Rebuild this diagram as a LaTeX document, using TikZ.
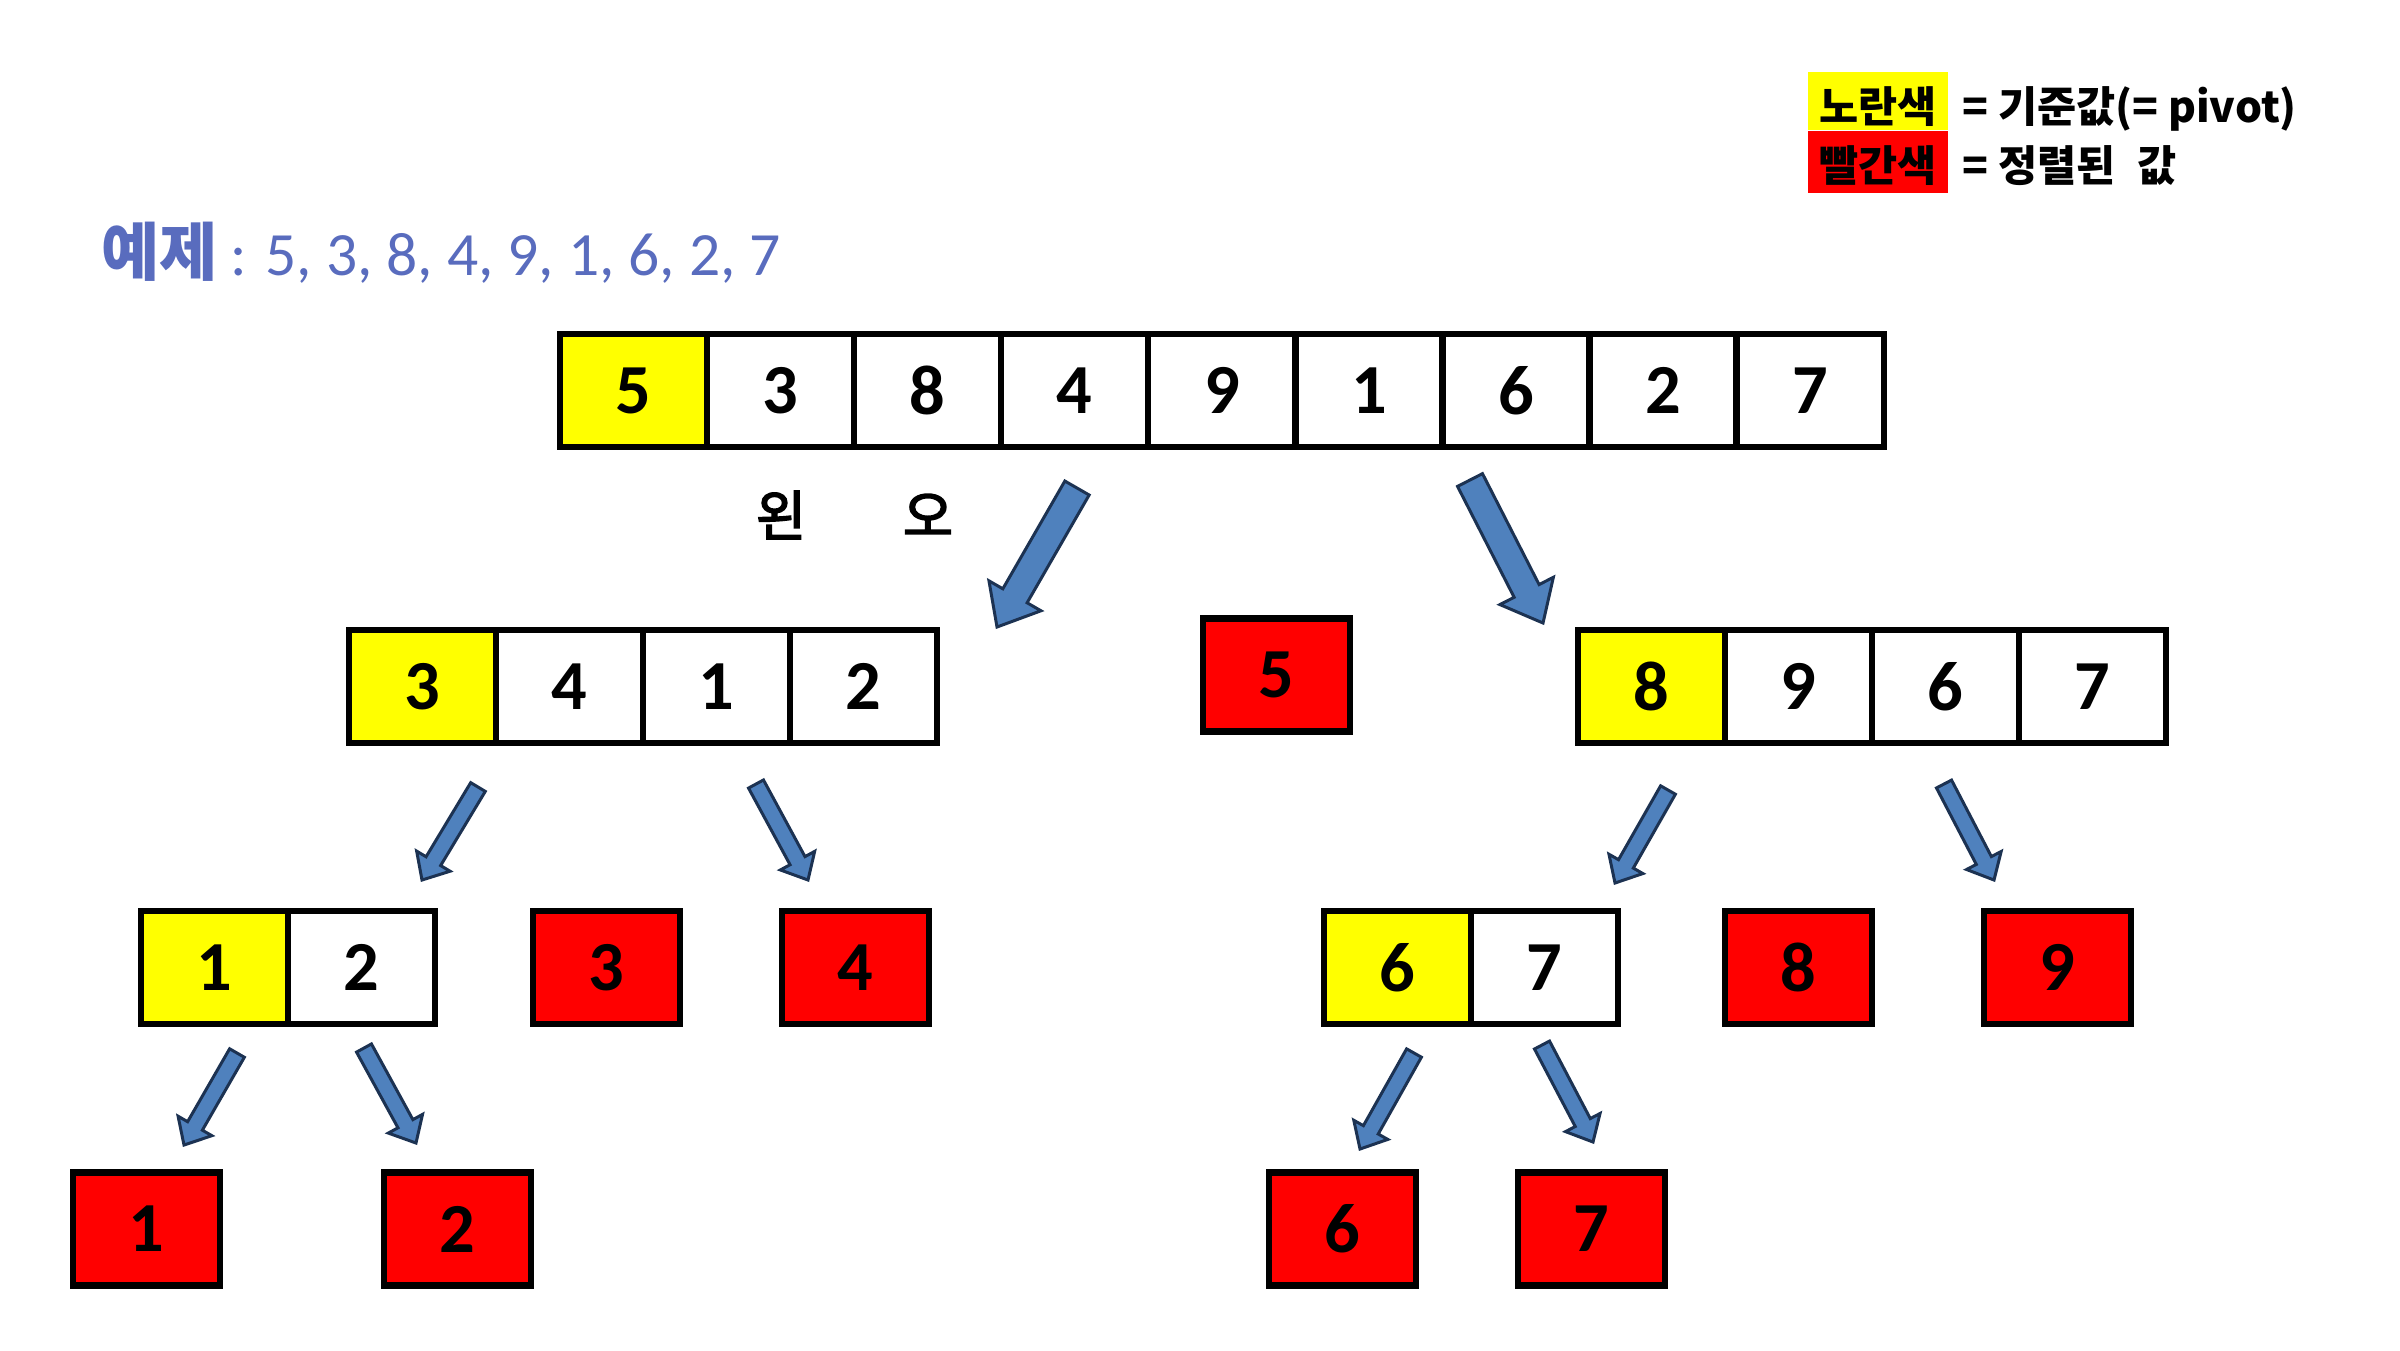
\documentclass[tikz,border=0pt]{standalone}
\usepackage{fontspec}
\setmainfont{Carlito}
\newfontfamily\kofont{Noto Sans CJK KR}
\newfontfamily\kofontmed{Noto Sans CJK KR}[FakeBold=3]
\usetikzlibrary{positioning,calc}
\definecolor{pivotyellow}{RGB}{255,255,0}
\definecolor{sortedred}{RGB}{255,0,0}
\definecolor{arrowfill}{RGB}{79,129,189}
\definecolor{arrowline}{RGB}{28,50,82}
\definecolor{titleblue}{RGB}{89,108,190}
% block arrow: tail, tip, half shaft, half head, head length
\newcommand{\splitarrow}[5]{%
  \coordinate (sa-h) at ($(#2)!#5!(#1)$);
  \draw[blockarr] ($(#1)!#3!90:(#2)$) -- ($(sa-h)!#3!90:(#2)$) -- ($(sa-h)!#4!90:(#2)$)
    -- (#2) -- ($(sa-h)!#4!-90:(#2)$) -- ($(sa-h)!#3!-90:(#2)$) -- ($(#1)!#3!-90:(#2)$) -- cycle;}

\begin{document}
\begin{tikzpicture}[x=0.01cm, y=-0.01cm,
  cell/.style={rectangle, draw=black, line width=1.8pt, fill=white, outer sep=0pt, inner sep=0pt,
    minimum width=1.47cm, minimum height=1.13cm, font=\fontsize{20}{24}\selectfont\bfseries},
  pivotcell/.style={cell, fill=pivotyellow},
  sortedcell/.style={cell, fill=sortedred},
  blockarr/.style={fill=arrowfill, draw=arrowline, line width=0.85pt},
  side/.style={font=\kofontmed\fontsize{15.5}{18}\selectfont, inner sep=0pt},
  legend/.style={font=\kofont\bfseries\fontsize{12.1}{15}\selectfont, inner sep=0pt}
]
\useasboundingbox (0,0) rectangle (2400,1350);

% legend
\node[legend, fill=pivotyellow, minimum width=1.40cm, minimum height=0.58cm,
  text height=0.45cm, text depth=0.03cm] (ylw) at (1878,101) {노란색};
\node[legend, fill=sortedred, minimum width=1.40cm, minimum height=0.62cm,
  text height=0.41cm, text depth=0.03cm, below=0pt of ylw] (rd) {빨간색};
\node[legend, anchor=base west, xshift=0.13cm] (ylwtext) at (ylw.base east) {= 기준값(= pivot)};
\node[legend, anchor=base west, xshift=0.13cm] (rdtext) at (rd.base east) {= 정렬된\hspace{0.12cm} 값};

% title
\node[anchor=base west, inner sep=0pt, text=titleblue, font=\kofont\bfseries\fontsize{18}{20}\selectfont] (extitle) at (101,275) {예제};
\node[anchor=base west, inner sep=0pt, text=titleblue, font=\fontsize{17.5}{20}\selectfont] (exvals) at (230,275) {: 5, 3, 8, 4, 9, 1, 6, 2, 7};

% first row
\node[pivotcell] (top1) at (633.5,390.5) {5};
\foreach \v [count=\i from 2, remember=\i as \j (initially 1)] in {3,8,4,9,1,6,2,7}
  \node[cell, right=0pt of top\j] (top\i) {\v};

\node[side] (left) at (781,515) {왼};
\node[side] (right) at (928,515) {오};

% second row
\node[pivotcell] (ml1) at (422.5,686.5) {3};
\node[cell, right=0pt of ml1] (ml2) {4};
\node[cell, right=0pt of ml2] (ml3) {1};
\node[cell, right=0pt of ml3] (ml4) {2};
\node[sortedcell] (mid5) at (1276.5,675) {5};
\node[pivotcell] (mr1) at (1651.5,686.5) {8};
\node[cell, right=0pt of mr1] (mr2) {9};
\node[cell, right=0pt of mr2] (mr3) {6};
\node[cell, right=0pt of mr3] (mr4) {7};

% third row
\node[pivotcell] (ll1) at (214.5,967.5) {1};
\node[cell, right=0pt of ll1] (ll2) {2};
\node[sortedcell] (s3) at (606.5,967.5) {3};
\node[sortedcell] (s4) at (855.5,967.5) {4};
\node[pivotcell] (rl1) at (1397.5,967.5) {6};
\node[cell, right=0pt of rl1] (rl2) {7};
\node[sortedcell] (s8) at (1798.5,967.5) {8};
\node[sortedcell] (s9) at (2057.5,967.5) {9};

% fourth row
\node[sortedcell] (s1) at (146.5,1229) {1};
\node[sortedcell] (s2) at (457.5,1229) {2};
\node[sortedcell] (s6) at (1342.5,1229) {6};
\node[sortedcell] (s7) at (1591.5,1229) {7};

% arrows
\coordinate (bl-tail) at (1077,488); \coordinate (bl-tip) at (997,627);
\coordinate (br-tail) at (1470,480); \coordinate (br-tip) at (1543,623);
\splitarrow{bl-tail}{bl-tip}{0.14cm}{0.30cm}{0.36cm}
\splitarrow{br-tail}{br-tip}{0.14cm}{0.30cm}{0.36cm}
\foreach \n/\ax/\ay/\bx/\by in {a/478/787/422/880, b/756/784/808/880, c/1668/790/1615/883,
    d/1944/784/1994/880, e/237/1053/184/1145, f/364/1048/416/1143, g/1414/1053/1360/1149,
    h/1542/1045/1593/1142} {
  \coordinate (\n-tail) at (\ax,\ay);
  \coordinate (\n-tip) at (\bx,\by);
  \splitarrow{\n-tail}{\n-tip}{0.085cm}{0.195cm}{0.22cm}
}

\end{tikzpicture}
\end{document}
